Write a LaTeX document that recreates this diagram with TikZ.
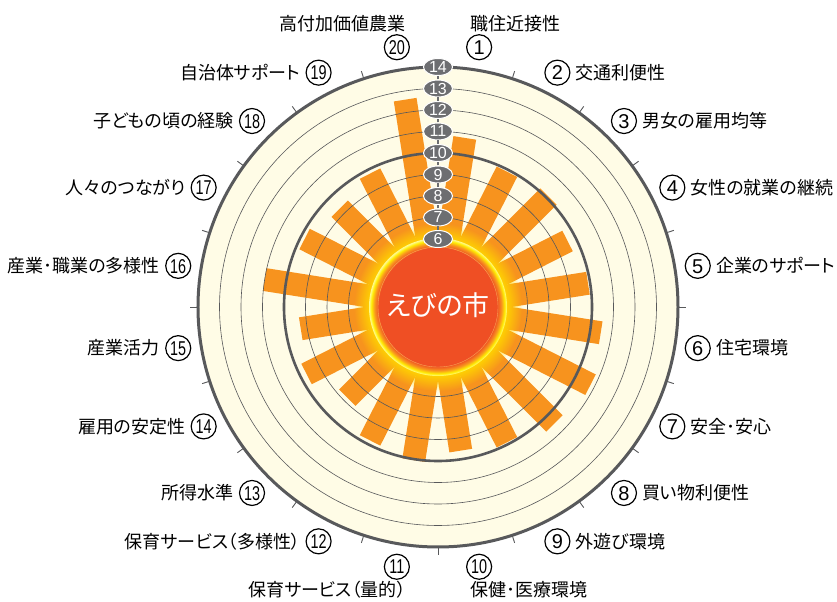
\documentclass[tikz,border=0pt]{standalone}
\usepackage{fontspec}
\setmainfont[RawFeature={+palt}]{Noto Sans CJK JP}
\newfontfamily\digitfont{Liberation Sans}
\usetikzlibrary{shapes.geometric,fadings}
\definecolor{cream}{RGB}{255,252,230}
\definecolor{barorange}{RGB}{247,147,30}
\definecolor{sunred}{RGB}{239,79,36}
\definecolor{sunorange}{RGB}{248,150,30}
\definecolor{sunyellow}{RGB}{255,240,0}
\definecolor{palesun}{RGB}{255,250,150}
\definecolor{axisgray}{RGB}{109,110,113}
\definecolor{ringgray}{RGB}{88,89,91}
\pgfdeclareradialshading{sundisc}{\pgfpointorigin}{color(0bp)=(sunred); color(21.5bp)=(sunred); color(23bp)=(sunorange); color(24.2bp)=(sunyellow); color(25bp)=(palesun); color(50bp)=(palesun)}

\begin{document}
\begin{tikzpicture}[x=1bp, y=1bp,
  ring/.style = {ringgray, line width=0.6bp},
  heavyring/.style = {ringgray, line width=2.6bp},
  bar/.style = {fill=barorange},
  valtag/.style = {ellipse, fill=axisgray, draw=white, line width=1bp, minimum width=29bp, minimum height=17bp, inner sep=0pt, text=white, font=\digitfont\fontsize{16bp}{16bp}\selectfont},
  numc/.style = {circle, draw, line width=1.2bp, minimum size=25bp, inner sep=0pt, text height=14.3bp, text depth=0bp, font=\digitfont\fontsize{20bp}{20bp}\selectfont},
  lbl/.style = {inner sep=0pt, text height=15bp, text depth=1.4bp, font=\fontsize{18bp}{20bp}\selectfont}
]
\useasboundingbox (-438,-295) rectangle (399,307);
\fill[cream] (0,0) circle (240);

\foreach \v [count=\i] in {10.8,9.9,10.1,9.6,9.9,10.5,10.8,10.5,9.9,9.6,10.05,9.8,8.8,9.7,9.3,11.0,9.8,9.3,9.8,12.6}
  \fill[bar, rotate={81-18*(\i-1)}] (0,-11.5) rectangle ({21.5*\v-61},11.5);

\foreach \v in {6,7,8,9,11,12,13}
  \draw[ring] (0,0) circle ({21.5*\v-61});
\draw[heavyring] (0,0) circle (154);

\fill[sunyellow!75!orange, path fading=circle with fuzzy edge 20 percent] (0,0) circle (84);
\shade[shading=sundisc] (0,0) circle (69);
\draw[palesun!70!sunorange, line width=0.4bp, opacity=0.6] (0,0) circle (60);

\draw[heavyring, line width=3bp] (0,0) circle (240);
\foreach \k in {0,...,19}
  \draw[ringgray, line width=0.9bp] ({90-18*\k}:240) -- ({90-18*\k}:248);

\foreach \v in {6,...,14}
  \node[valtag] (v\v) at (0,{21.5*\v-61}) {\v};
\foreach \v [evaluate=\v as \w using int(\v+1)] in {6,...,13}
  \draw[axisgray, line width=1.2bp] (v\v) -- (v\w);

\node[text=white, font=\fontsize{27bp}{27bp}\selectfont] (city) at (0,2) {えびの市};

\foreach \i in {1,...,20}
  \node[numc] (n\i) at ({81-18*(\i-1)}:263) {\ifnum\i>9 \scalebox{0.72}[1]{\i}\else\i\fi};

\node[lbl, anchor=south west] (t1) at ([yshift=6bp]n1.north west) {職住近接性};
\foreach \i/\txt in {2/交通利便性,3/男女の雇用均等,4/女性の就業の継続,5/企業のサポート,6/住宅環境,7/安全･安心,8/買い物利便性,9/外遊び環境}
  \node[lbl, anchor=west] (t\i) at ([xshift=5bp]n\i.east) {\txt};
\node[lbl, anchor=north west] (t10) at ([yshift=-5bp]n10.south west) {保健･医療環境};
\node[lbl, anchor=north east] (t11) at ([yshift=-5bp]n11.south east) {保育サービス（量的）};
\foreach \i/\txt in {12/保育サービス（多様性）,13/所得水準,14/雇用の安定性,15/産業活力,16/産業･職業の多様性,17/人々のつながり,18/子どもの頃の経験,19/自治体サポート}
  \node[lbl, anchor=east] (t\i) at ([xshift=-5bp]n\i.west) {\txt};
\node[lbl, anchor=south east] (t20) at ([yshift=6bp]n20.north east) {高付加価値農業};
\end{tikzpicture}
\end{document}
